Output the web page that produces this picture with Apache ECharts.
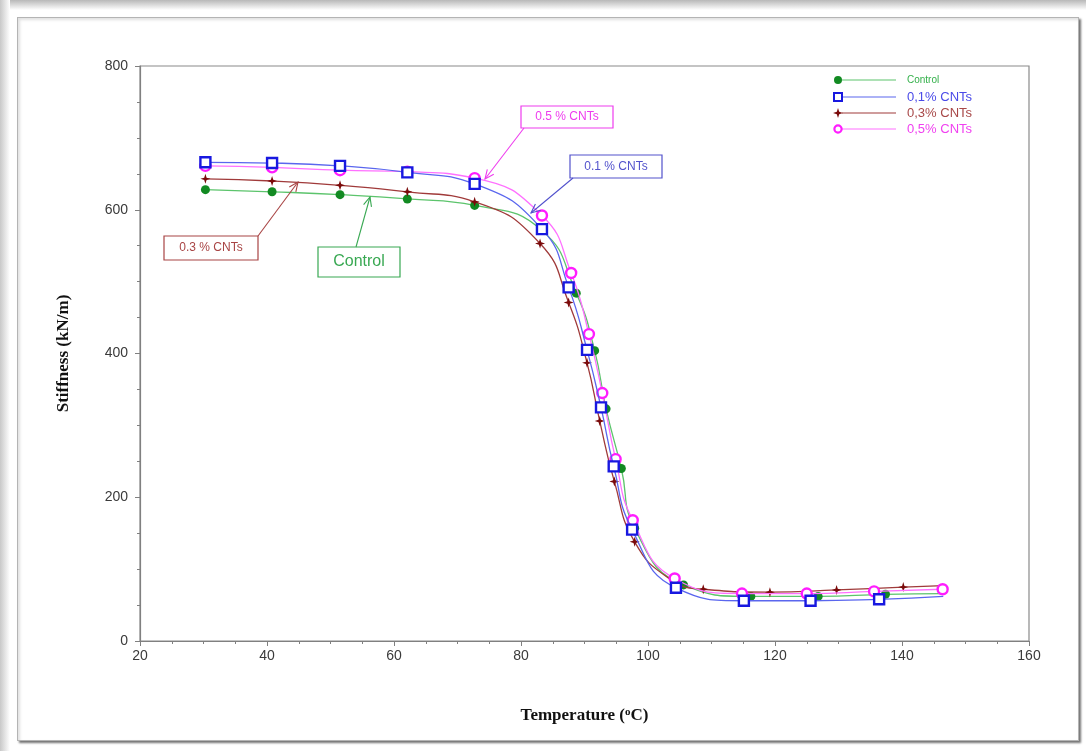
<!DOCTYPE html>
<html>
<head>
<meta charset="utf-8">
<script src="https://cdn.jsdelivr.net/npm/echarts@6/dist/echarts.min.js"></script>
<style>
html,body{margin:0;padding:0;width:1086px;height:751px;overflow:hidden;background:#fff;}
#topstrip{position:absolute;left:0;top:0;width:1086px;height:10px;background:linear-gradient(#b8b8b8,#fff);}
#leftstrip{position:absolute;left:0;top:0;width:10px;height:751px;background:linear-gradient(90deg,#c8c8c8,#fff);}
#panel{position:absolute;left:17px;top:17px;width:1060px;height:722px;background:#fff;border:1px solid #b4b4b4;box-shadow:2px 2px 2px rgba(0,0,0,0.55), inset 2px 2px 3px rgba(0,0,0,0.12);}
#chart{position:absolute;left:0;top:0;width:1086px;height:751px;}
</style>
</head>
<body>
<div id="topstrip"></div>
<div id="leftstrip"></div>
<div id="panel"></div>
<div id="chart"></div>
<script>
// ---- data ----
const seriesNames = ['Control', '0,1% CNTs', '0,3% CNTs', '0,5% CNTs'];
const xTicks = [20, 40, 60, 80, 100, 120, 140, 160];
const yTicks = [0, 200, 400, 600, 800];

const controlT = [30.3, 40.8, 51.5, 62.1, 72.7, 83.2, 88.7, 91.6, 93.4, 95.8, 97.9, 105.6, 116.2, 126.8, 137.4];
const controlS = [628, 625, 621, 615, 606, 572, 484, 404, 323, 240, 157, 78, 62, 62, 65];
const controlCurveEnd = [146.5, 66];

const cnt01T = [30.3, 40.8, 51.5, 62.1, 72.7, 83.3, 87.5, 90.4, 92.6, 94.6, 97.5, 104.4, 115.1, 125.6, 136.4];
const cnt01S = [666, 665, 661, 652, 636, 573, 492, 405, 325, 243, 155, 74, 56, 56, 58];
const cnt01CurveEnd = [146.5, 62];

const cnt03T = [30.3, 40.8, 51.5, 62.1, 72.7, 83.0, 87.5, 90.4, 92.4, 94.7, 97.9, 108.7, 119.2, 129.7, 140.2];
const cnt03S = [643, 640, 634, 625, 611, 553, 471, 387, 306, 222, 138, 72, 68, 71, 75];
const cnt03CurveMid = [103.5, 86];
const cnt03CurveEnd = [146.5, 77];

const cnt05T = [30.3, 40.8, 51.5, 62.1, 72.7, 83.3, 87.9, 90.7, 92.8, 94.9, 97.6, 104.2, 114.8, 125.0, 135.6, 146.4];
const cnt05S = [661, 659, 655, 653, 644, 592, 512, 427, 345, 253, 168, 87, 66, 66, 69, 72];

// ---- build ----
function pairs(xs, ys) { return xs.map((x, i) => [x, ys[i]]); }
function curvePoint(p) { return { value: p, symbol: 'none' }; }

const controlData = pairs(controlT, controlS).concat([curvePoint(controlCurveEnd)]);
const cnt01Data = pairs(cnt01T, cnt01S).concat([curvePoint(cnt01CurveEnd)]);
const cnt03Pairs = pairs(cnt03T, cnt03S);
const cnt03Data = cnt03Pairs.slice(0, 11).concat([curvePoint(cnt03CurveMid)], cnt03Pairs.slice(11), [curvePoint(cnt03CurveEnd)]);
const cnt05Data = pairs(cnt05T, cnt05S);

const crossPath = 'path://M5,0 L6.2,3.8 L10,5 L6.2,6.2 L5,10 L3.8,6.2 L0,5 L3.8,3.8 Z';

const markerColors = ['#128a22', '#1818e0', '#7a0a0a', '#ff1cff'];
const lineColors = ['#5cc46c', '#5a66ee', '#a03a3a', '#ff70ff'];

const chart = echarts.init(document.getElementById('chart'), null, { renderer: 'canvas' });

function lineSeries(name, data, idx, symbol, size, hollow, z) {
  return {
    name: name, type: 'line', data: data, smooth: 0.5,
    symbol: symbol, symbolSize: size, z: z,
    lineStyle: { color: lineColors[idx], width: 1.3 },
    itemStyle: hollow
      ? { color: '#fff', borderColor: markerColors[idx], borderWidth: 2.4 }
      : { color: markerColors[idx], borderWidth: 0 },
    emphasis: { disabled: true },
    animation: false
  };
}

// Legend drawn as graphic (marker at left of line, as in the reference)
const legendX = 838, legendRows = [80, 97, 113, 129];
const legendTextColors = ['#33b04a', '#4a4ae8', '#a84848', '#f040f0'];
const legendGraphics = [];
legendRows.forEach((y, i) => {
  legendGraphics.push({ type: 'line', shape: { x1: legendX + 4, y1: y, x2: 896, y2: y }, style: { stroke: lineColors[i], lineWidth: 1.2 } });
  legendGraphics.push({ type: 'text', x: 907, y: y, style: { text: seriesNames[i], fill: legendTextColors[i], font: (i === 0 ? '10px' : '13px') + ' "Liberation Sans", Arial, sans-serif', textVerticalAlign: 'middle' } });
});
legendGraphics.push({ type: 'circle', shape: { cx: legendX, cy: legendRows[0], r: 4 }, style: { fill: markerColors[0] } });
legendGraphics.push({ type: 'rect', shape: { x: legendX - 4, y: legendRows[1] - 4, width: 8, height: 8 }, style: { fill: '#fff', stroke: markerColors[1], lineWidth: 2 } });
legendGraphics.push({ type: 'polygon', shape: { points: [[legendX, legendRows[2] - 5], [legendX + 1.2, legendRows[2] - 1.2], [legendX + 5, legendRows[2]], [legendX + 1.2, legendRows[2] + 1.2], [legendX, legendRows[2] + 5], [legendX - 1.2, legendRows[2] + 1.2], [legendX - 5, legendRows[2]], [legendX - 1.2, legendRows[2] - 1.2]] }, style: { fill: markerColors[2] } });
legendGraphics.push({ type: 'circle', shape: { cx: legendX, cy: legendRows[3], r: 3.6 }, style: { fill: '#fff', stroke: markerColors[3], lineWidth: 2.2 } });

// Annotation boxes with arrows
function annotation(box, text, color, fontSize, from, to) {
  const g = [];
  g.push({ type: 'rect', z: 50, shape: { x: box[0], y: box[1], width: box[2], height: box[3] }, style: { fill: '#fff', stroke: color, lineWidth: 1.2 } });
  g.push({ type: 'text', z: 51, x: box[0] + box[2] / 2, y: box[1] + box[3] / 2, style: { text: text, fill: color, font: fontSize + 'px "Liberation Sans", Arial, sans-serif', textAlign: 'center', textVerticalAlign: 'middle' } });
  g.push({ type: 'line', z: 50, shape: { x1: from[0], y1: from[1], x2: to[0], y2: to[1] }, style: { stroke: color, lineWidth: 1.1 } });
  const ang = Math.atan2(to[1] - from[1], to[0] - from[0]);
  const L = 10, a = 0.42;
  g.push({ type: 'polyline', z: 50, shape: { points: [
    [to[0] - L * Math.cos(ang - a), to[1] - L * Math.sin(ang - a)], to,
    [to[0] - L * Math.cos(ang + a), to[1] - L * Math.sin(ang + a)]] }, style: { stroke: color, lineWidth: 1.1, fill: null } });
  return g;
}
const annGraphics = [].concat(
  annotation([521, 106, 92, 22], '0.5 % CNTs', '#ee3cee', 12, [524, 128], [485, 179]),
  annotation([570, 155, 92, 23], '0.1 % CNTs', '#5252cc', 12, [573, 178], [531, 213]),
  annotation([164, 236, 94, 24], '0.3 % CNTs', '#a84444', 12, [258, 236], [298, 182]),
  annotation([318, 247, 82, 30], 'Control', '#38a852', 16, [356, 247], [370, 197])
);

const axisLabelStyle = { color: '#3a3a3a', fontSize: 14, fontFamily: '"Liberation Sans", Arial, sans-serif' };
const serifBold = { fontFamily: '"Liberation Serif", "DejaVu Serif", serif', fontWeight: 'bold', fontSize: 17, color: '#111' };

chart.setOption({
  animation: false,
  grid: { left: 140, right: 57, top: 66, bottom: 110, show: true, borderColor: '#8a8a8a', borderWidth: 1.2, backgroundColor: 'transparent' },
  xAxis: {
    type: 'value', min: xTicks[0], max: xTicks[xTicks.length - 1], interval: 20,
    name: '{n|Temperature (}{s|o}{n|C)}', nameLocation: 'middle', nameGap: 66,
    nameTextStyle: Object.assign({ rich: { n: serifBold, s: Object.assign({}, serifBold, { fontSize: 11, verticalAlign: 'top', padding: [0, 0, 7, 0] }) } }, serifBold),
    axisLine: { show: true, lineStyle: { color: '#808080', width: 1.2 } },
    axisTick: { show: true, length: 5, lineStyle: { color: '#808080' } },
    minorTick: { show: true, splitNumber: 4, length: 3, lineStyle: { color: '#808080' } },
    splitLine: { show: false },
    axisLabel: Object.assign({ margin: 8 }, axisLabelStyle)
  },
  yAxis: {
    type: 'value', min: yTicks[0], max: yTicks[yTicks.length - 1], interval: 200,
    name: 'Stiffness (kN/m)', nameLocation: 'middle', nameGap: 68, nameRotate: 90,
    nameTextStyle: serifBold,
    axisLine: { show: true, lineStyle: { color: '#808080', width: 1.2 } },
    axisTick: { show: true, length: 5, lineStyle: { color: '#808080' } },
    minorTick: { show: true, splitNumber: 4, length: 3, lineStyle: { color: '#808080' } },
    splitLine: { show: false },
    axisLabel: Object.assign({ margin: 12 }, axisLabelStyle)
  },
  series: [
    lineSeries(seriesNames[0], controlData, 0, 'circle', 9, false, 2),
    lineSeries(seriesNames[2], cnt03Data, 2, crossPath, 10, false, 3),
    lineSeries(seriesNames[3], cnt05Data, 3, 'circle', 10, true, 4),
    lineSeries(seriesNames[1], cnt01Data, 1, 'rect', 10, true, 5)
  ],
  graphic: legendGraphics.concat(annGraphics)
});
</script>
</body>
</html>
